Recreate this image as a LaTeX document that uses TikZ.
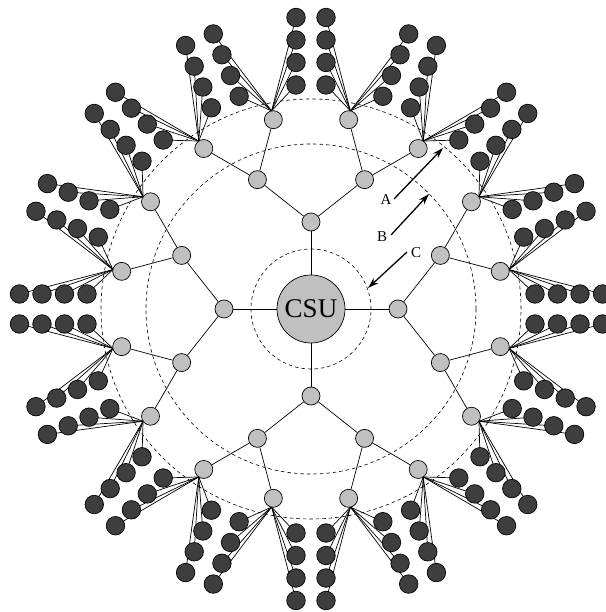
\documentclass[tikz,border=0pt]{standalone}
\usepackage{fontspec}
\setmainfont{Liberation Serif}
\usetikzlibrary{calc,arrows.meta}
\pgfdeclarelayer{bg}
\pgfsetlayers{bg,main}
\definecolor{grayc}{RGB}{192,192,192}
\definecolor{leafc}{RGB}{62,62,62}
\begin{document}
\begin{tikzpicture}[x=1pt,y=1pt,
  leaf/.style={circle,draw=black,fill=leafc,line width=0.7pt,minimum size=18.5pt,inner sep=0pt},
  gnode/.style={circle,draw=black,fill=grayc,line width=0.7pt,minimum size=18pt,inner sep=0pt},
  hub/.style={circle,draw=black,fill=grayc,line width=0.7pt,minimum size=68pt,inner sep=0pt,font=\fontsize{27}{27}\selectfont},
  edge/.style={line width=0.7pt},
  ring/.style={dash pattern=on 3.5pt off 3pt,line width=0.6pt},
  pointer/.style={line width=1.3pt,-{Stealth[length=11pt,width=7pt]}},
  lbl/.style={font=\fontsize{15}{15}\selectfont,inner sep=0pt}]
\useasboundingbox (-311,-303) rectangle (294,309);

% hub
\node[hub] (CSU) at (0,0) {CSU};
% level 1
\foreach \q in {0,...,3} {
  \node[gnode] (N1-\q) at (90*\q:87) {};
}
% level 2
\foreach \m in {0,...,7} {
  \node[gnode] (N2-\m) at (22.5+45*\m:140) {};
}
% level 3 and apex points
\foreach \i in {0,...,15} {
  \pgfmathsetmacro\ang{11.25+22.5*\i}
  \node[gnode] (N3-\i) at (\ang:193) {};
  \coordinate (A3-\i) at (\ang:202);
}
% leaves
\foreach \k in {0,...,15} {
  \pgfmathsetmacro\d{22.5*\k}
  \pgfmathsetmacro\ap{\d+90}
  \pgfmathsetmacro\am{\d-90}
  \foreach \j/\t in {1/224,2/246.5,3/269,4/291.5} {
    \node[leaf] (L-\k-p-\j) at ($(\d:\t)+(\ap:15)$) {};
    \node[leaf] (L-\k-m-\j) at ($(\d:\t)+(\am:15)$) {};
  }
}

\begin{pgfonlayer}{bg}
  \draw[ring] (0,0) circle[radius=60];
  \draw[ring] (0,0) circle[radius=165];
  \draw[ring] (0,0) circle[radius=210];
  \foreach \q in {0,...,3} {
    \pgfmathtruncatemacro\ma{2*\q}
    \pgfmathtruncatemacro\mb{mod(2*\q+7,8)}
    \draw[edge] (CSU) -- (N1-\q);
    \draw[edge] (N1-\q) -- (N2-\ma);
    \draw[edge] (N1-\q) -- (N2-\mb);
  }
  \foreach \m in {0,...,7} {
    \pgfmathtruncatemacro\ia{2*\m}
    \pgfmathtruncatemacro\ib{2*\m+1}
    \draw[edge] (N2-\m) -- (N3-\ia);
    \draw[edge] (N2-\m) -- (N3-\ib);
  }
  \foreach \i in {0,...,15} {
    \pgfmathtruncatemacro\nx{mod(\i+1,16)}
    \foreach \j in {1,...,4} {
      \draw[edge] (A3-\i) -- (L-\i-p-\j.center);
      \draw[edge] (A3-\i) -- (L-\nx-m-\j.center);
    }
  }
\end{pgfonlayer}

% pointers
\coordinate (sA) at (83,110);
\coordinate (tA) at (132,161);
\coordinate (sB) at (80,74);
\coordinate (tB) at (118,115);
\coordinate (sC) at (96,57);
\coordinate (tC) at (57,21);
\node[lbl] (lA) at (75,109) {A};
\node[lbl] (lB) at (71,72) {B};
\node[lbl] (lC) at (105,56) {C};
\draw[pointer] (sA) -- (tA);
\draw[pointer] (sB) -- (tB);
\draw[pointer] (sC) -- (tC);
\end{tikzpicture}
\end{document}
